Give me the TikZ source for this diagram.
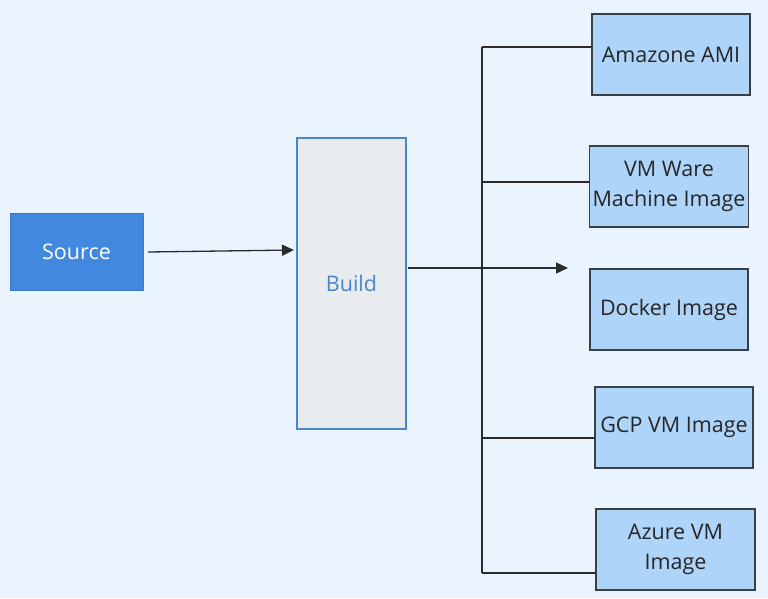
\documentclass[tikz,border=0pt]{standalone}
\usepackage{fontspec}
\setmainfont{Open Sans}
\usetikzlibrary{arrows.meta}
\definecolor{bg}{HTML}{EAF4FE}
\definecolor{srcfill}{HTML}{4388DF}
\definecolor{buildfill}{HTML}{E8ECEF}
\definecolor{buildline}{HTML}{4A86CC}
\definecolor{tgtfill}{HTML}{AED5F9}
\definecolor{tgtline}{HTML}{3A3F44}
\definecolor{wire}{HTML}{2B2B2B}
\begin{document}
\begin{tikzpicture}[x=1pt,y=-1pt,
  lbl/.style={font=\fontsize{21.5}{30}\selectfont, align=center},
  srcbox/.style={draw=srcfill!90!black, line width=0.6pt, fill=srcfill, text=white, lbl},
  buildbox/.style={draw=buildline, line width=1.2pt, fill=buildfill, text=buildline, lbl},
  tgtbox/.style={draw=tgtline, line width=1.2pt, fill=tgtfill, text=black!85, lbl},
  wireline/.style={draw=wire, line width=1.3pt},
  arr/.style={wireline, -{Triangle[length=12pt,width=11pt]}}
]
\fill[bg] (0,0) rectangle (768,598);
\useasboundingbox (0,0) rectangle (768,598);

\node[srcbox, minimum width=133pt, minimum height=77pt] (src) at (76.5,251.5) {Source};
\node[buildbox, minimum width=109pt, minimum height=291pt] (build) at (351.5,283.5) {Build};

\node[tgtbox, minimum width=158pt, minimum height=81pt] (ami) at (671,54.5) {Amazone AMI};
\node[tgtbox, minimum width=158pt, minimum height=81pt] (vmw) at (669,186.5) {VM Ware\\Machine Image};
\node[tgtbox, minimum width=158pt, minimum height=81pt] (dock) at (669,309.5) {Docker Image};
\node[tgtbox, minimum width=158pt, minimum height=81pt] (gcp) at (674,427.5) {GCP VM Image};
\node[tgtbox, minimum width=159pt, minimum height=81pt] (az) at (675.5,549.5) {Azure VM\\Image};

\coordinate (sstart) at (148,252);
\coordinate (bend) at (294,250);
\draw[arr] (sstart) -- (bend);

\coordinate (bout) at (408,268);
\coordinate (tip) at (568,268);
\draw[arr] (bout) -- (tip);

\coordinate (top) at (482,47);
\coordinate (bot) at (482,573);
\draw[wireline] (top) -- (bot);
\draw[wireline] (top) -- (ami.west |- top);
\draw[wireline] (482,182) -- (vmw.west |- 0,182);
\draw[wireline] (482,438) -- (gcp.west |- 0,438);
\draw[wireline] (bot) -- (az.west |- bot);
\end{tikzpicture}
\end{document}
